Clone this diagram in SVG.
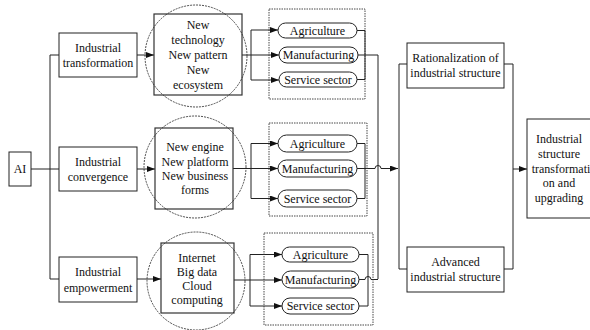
<svg xmlns="http://www.w3.org/2000/svg" width="590" height="330" viewBox="0 0 590 330">
<defs>
<marker id="ah" viewBox="0 0 8 6" refX="8" refY="3" markerWidth="8" markerHeight="6" markerUnits="userSpaceOnUse" orient="auto">
<path d="M0,0 L8,3 L0,6 Z" fill="#111"/>
</marker>
</defs>
<style>
text{font-family:'Liberation Serif','Times New Roman','DejaVu Serif',serif;font-size:12px;fill:#111;text-anchor:middle}
.box{fill:#fff;stroke:#222;stroke-width:1}
.sq{fill:none;stroke:#333;stroke-width:1.2}
.circ{fill:none;stroke:#222;stroke-width:0.8;stroke-dasharray:2 1}
.dash{fill:none;stroke:#333;stroke-width:0.9;stroke-dasharray:1.5 1}
.pill{fill:#fff;stroke:#222;stroke-width:1}
.ln{fill:none;stroke:#222;stroke-width:1}
.arr{fill:none;stroke:#222;stroke-width:1;marker-end:url(#ah)}
</style>
<g id="connectors">
<path class="ln" d="M31,169 H50 M50,55 V279 M50,55 H59 M50,169 H59 M50,279 H59"/>
<path class="arr" d="M137,55 H154"/>
<path class="arr" d="M137,169 H155"/>
<path class="arr" d="M137,279 H161"/>
<path class="ln" d="M242,55 H251 M251,30 V80"/>
<path class="arr" d="M251,30 H278"/>
<path class="arr" d="M251,55 H279"/>
<path class="arr" d="M251,80 H279"/>
<path class="ln" d="M233,168.5 H251 M251,143.5 V198.5"/>
<path class="arr" d="M251,143.5 H278"/>
<path class="arr" d="M251,168.5 H278"/>
<path class="arr" d="M251,198.5 H278"/>
<path class="ln" d="M234,280 H250 M250,254.5 V306"/>
<path class="arr" d="M250,254.5 H282"/>
<path class="arr" d="M250,280 H282"/>
<path class="arr" d="M250,306 H282"/>
<path class="ln" d="M357,30.5 H365 V79.5 H357 M358,55 H378 V279"/>
<path class="ln" d="M357,143.5 H365 V198.5 H357"/>
<path class="arr" d="M357,168.5 H375 A3,3 0 0 1 381,168.5 H398"/>
<path class="ln" d="M359,254.5 H368 V306 H359 M359,279.5 H365 A3,3 0 0 1 371,279.5 H378"/>
<path class="ln" d="M407,64 H399 V269 H407 M504,64 H513 V269 H504"/>
<path class="arr" d="M513,169 H527"/>
</g>
<g id="ai">
<rect class="box" x="9" y="152" width="22" height="34"/>
<text x="20" y="173">AI</text>
</g>
<g id="transformation">
<rect class="box" x="59" y="33" width="78" height="44"/>
<text x="98" y="52">Industrial</text>
<text x="98" y="67">transformation</text>
</g>
<g id="convergence">
<rect class="box" x="59" y="147" width="78" height="44"/>
<text x="98" y="166">Industrial</text>
<text x="98" y="181">convergence</text>
</g>
<g id="empowerment">
<rect class="box" x="59" y="257" width="78" height="45"/>
<text x="98" y="276">Industrial</text>
<text x="98" y="292">empowerment</text>
</g>
<g id="new-tech">
<rect class="sq" x="154" y="14" width="88" height="81"/>
<circle class="circ" cx="196" cy="56" r="51"/>
<text x="198" y="29">New</text>
<text x="198" y="44">technology</text>
<text x="198" y="59">New pattern</text>
<text x="198" y="74">New</text>
<text x="198" y="89">ecosystem</text>
</g>
<g id="new-engine">
<rect class="sq" x="155" y="128" width="78" height="81"/>
<circle class="circ" cx="195" cy="167" r="51"/>
<text x="195" y="151">New engine</text>
<text x="195" y="166">New platform</text>
<text x="195" y="180">New business</text>
<text x="195" y="194">forms</text>
</g>
<g id="internet">
<rect class="sq" x="161" y="243" width="73" height="70"/>
<circle class="circ" cx="196" cy="281" r="49"/>
<text x="197" y="262">Internet</text>
<text x="197" y="276">Big data</text>
<text x="197" y="290">Cloud</text>
<text x="197" y="304">computing</text>
</g>
<g id="sectors-1">
<rect class="dash" x="269" y="9" width="96" height="90"/>
<rect class="pill" x="278" y="23" width="79" height="15" rx="7.5"/>
<text x="317.5" y="34.5">Agriculture</text>
<rect class="pill" x="279" y="47" width="79" height="16" rx="8"/>
<text x="318.5" y="59">Manufacturing</text>
<rect class="pill" x="279" y="72" width="78" height="15" rx="7.5"/>
<text x="318" y="83.5">Service sector</text>
</g>
<g id="sectors-2">
<rect class="dash" x="269" y="123" width="98" height="93"/>
<rect class="pill" x="278" y="135" width="79" height="17" rx="8.5"/>
<text x="317.5" y="147.5">Agriculture</text>
<rect class="pill" x="278" y="160" width="79" height="17" rx="8.5"/>
<text x="317.5" y="172.5">Manufacturing</text>
<rect class="pill" x="278" y="190" width="79" height="17" rx="8.5"/>
<text x="317.5" y="202.5">Service sector</text>
</g>
<g id="sectors-3">
<rect class="dash" x="264" y="233" width="109" height="92"/>
<rect class="pill" x="282" y="247" width="77" height="15" rx="7.5"/>
<text x="320.5" y="258.5">Agriculture</text>
<rect class="pill" x="282" y="271" width="77" height="17" rx="8.5"/>
<text x="320.5" y="283.5">Manufacturing</text>
<rect class="pill" x="282" y="298" width="77" height="16" rx="8"/>
<text x="320.5" y="310">Service sector</text>
</g>
<g id="rationalization">
<rect class="box" x="407" y="43" width="97" height="45"/>
<text x="455.5" y="62">Rationalization of</text>
<text x="455.5" y="77">industrial structure</text>
</g>
<g id="advanced">
<rect class="box" x="407" y="247" width="97" height="45"/>
<text x="455.5" y="266">Advanced</text>
<text x="455.5" y="281">industrial structure</text>
</g>
<g id="upgrading">
<rect class="box" x="527" y="119" width="70" height="99"/>
<text x="559" y="143">Industrial</text>
<text x="559" y="158">structure</text>
<text x="561" y="173">transformati</text>
<text x="559" y="187">on and</text>
<text x="559" y="202">upgrading</text>
</g>
</svg>
